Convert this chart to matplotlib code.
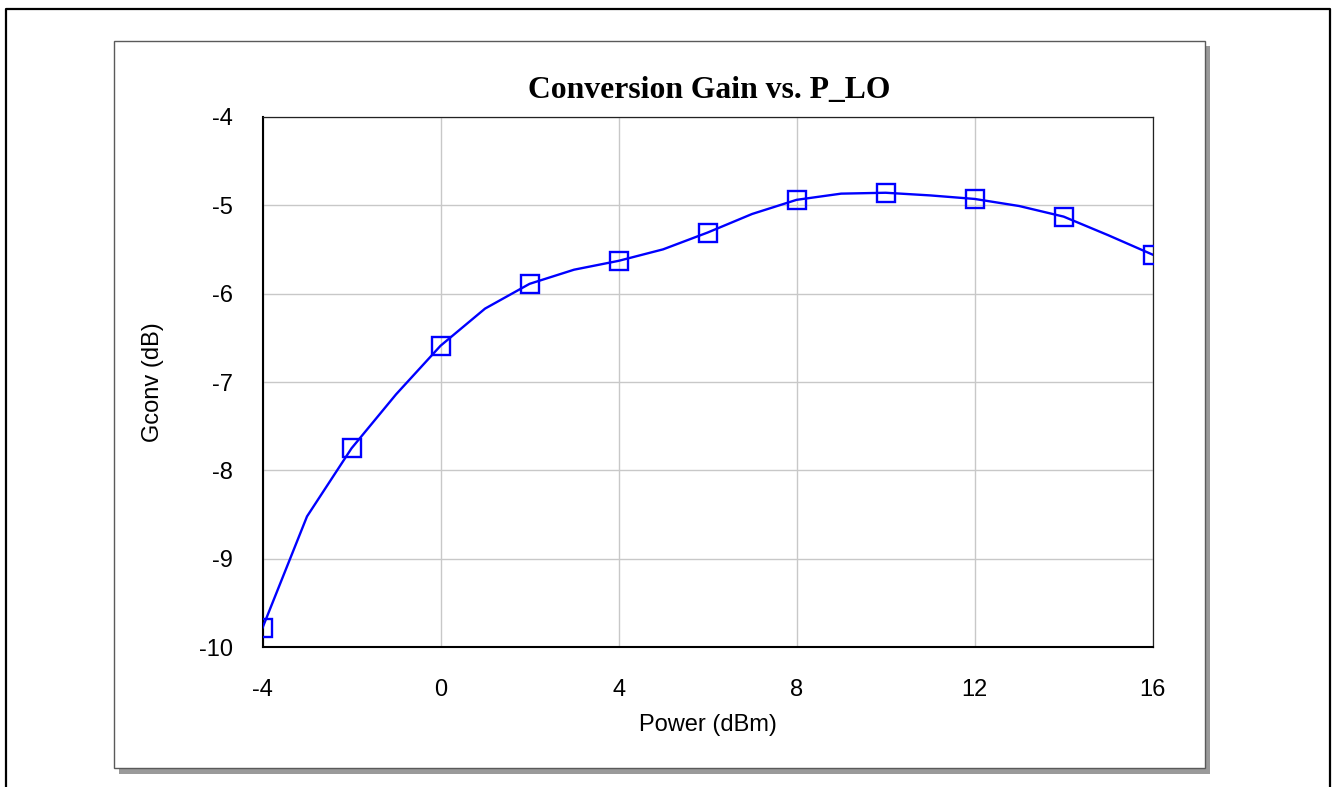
import matplotlib
matplotlib.use("Agg")
import matplotlib.pyplot as plt
from matplotlib.patches import Rectangle
from matplotlib.lines import Line2D

plt.rcParams["axes.unicode_minus"] = False

# Data
power_dbm = [-4, -3, -2, -1, 0, 1, 2, 3, 4, 5, 6, 7, 8, 9, 10, 11, 12, 13, 14, 15, 16]
gconv_db = [-9.78, -8.52, -7.75, -7.14, -6.59, -6.17, -5.89, -5.73, -5.63, -5.50, -5.31,
            -5.10, -4.94, -4.87, -4.86, -4.89, -4.93, -5.01, -5.13, -5.34, -5.56]
x_ticks = [-4, 0, 4, 8, 12, 16]
y_ticks = [-10, -9, -8, -7, -6, -5, -4]
title = "Conversion Gain vs. P_LO"
xlabel = "Power (dBm)"
ylabel = "Gconv (dB)"

W, H = 1332, 787
fig = plt.figure(figsize=(W / 100, H / 100), dpi=100)

def fx(px):
    return px / W

def fy(py):
    return 1 - py / H

# Outer frame (left, top, right; bottom is off-image)
fig.add_artist(Line2D([fx(6), fx(6), fx(1330), fx(1330)], [fy(800), fy(9), fy(9), fy(800)],
                      transform=fig.transFigure, color="black", lw=1.6))

# Inner box with shadow
fig.add_artist(Rectangle((fx(119), fy(774)), fx(1210) - fx(119), fy(46) - fy(774),
                         transform=fig.transFigure, facecolor="#9a9a9a", edgecolor="none", zorder=0))
fig.add_artist(Rectangle((fx(114), fy(768)), fx(1205) - fx(114), fy(41) - fy(768),
                         transform=fig.transFigure, facecolor="white", edgecolor="#5a5a5a",
                         lw=1.0, zorder=0.5))

ax = fig.add_axes([fx(262.5), fy(647.3), fx(1152.7) - fx(262.5), fy(116.7) - fy(647.3)])
ax.set_zorder(2)
ax.plot(power_dbm, gconv_db, color="#0000ff", lw=1.7, marker="s", markevery=2,
        markersize=13, markerfacecolor="none", markeredgecolor="#0000ff", markeredgewidth=1.7,
        clip_on=True, zorder=3)
ax.set_xlim(-4, 16)
ax.set_ylim(-10, -4)
ax.set_xticks(x_ticks)
ax.set_yticks(y_ticks)
ax.grid(True, color="#c8c8c8", lw=1.0)
ax.set_axisbelow(True)
ax.tick_params(length=0, labelsize=17)
for lab in ax.get_xticklabels() + ax.get_yticklabels():
    lab.set_family("Liberation Sans")
ax.tick_params(axis="x", pad=23)
ax.tick_params(axis="y", pad=21)
for s in ["left", "bottom"]:
    ax.spines[s].set_linewidth(1.5)
    ax.spines[s].set_color("black")
for s in ["top", "right"]:
    ax.spines[s].set_linewidth(0.9)
    ax.spines[s].set_color("#222222")

fig.text(fx(709), fy(91), title, ha="center", va="center", fontsize=22.8,
         fontweight="bold", family="Liberation Serif")
fig.text(fx(707.5), fy(725), xlabel, ha="center", va="center", fontsize=17,
         family="Liberation Sans")
fig.text(fx(153), fy(382), ylabel, ha="center", va="center", fontsize=17,
         rotation=90, family="Liberation Sans")

fig.savefig("out.png", dpi=100)
